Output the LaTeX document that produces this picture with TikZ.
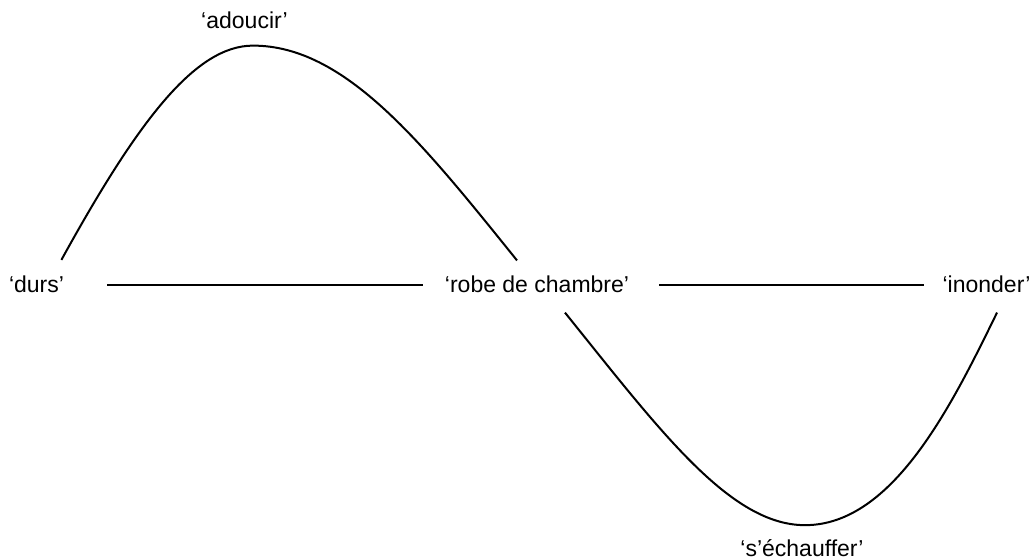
\documentclass[tikz,border=0pt]{standalone}
\usepackage{fontspec}
\setmainfont{Liberation Sans}
\usepackage{tikz}
\usetikzlibrary{positioning}

\begin{document}
\begin{tikzpicture}[
  x=0.5pt,y=0.5pt,
  word/.style={inner sep=0pt,anchor=base,font=\fontsize{11.5}{13.8}\selectfont},
  link/.style={black,line width=1pt}
]
\useasboundingbox (0,0) rectangle (1036,-560);
\node[word] (durs) at (36.5,-293) {‘durs’};
\node[word] (robe) at (537,-293) {‘robe de chambre’};
\node[word] (ino) at (986.5,-293) {‘inonder’};
\node[word] (adou) at (244.5,-29) {‘adoucir’};
\node[word] (ech) at (802,-556) {‘s’échauffer’};

\draw[link,shorten <=21.5pt,shorten >=11pt] (durs.east) -- (robe.west);
\draw[link,shorten <=15pt,shorten >=9pt] (robe.east) -- (ino.west);
% upper arc
\draw[link] ([shift={(-3,16)}]durs.north east) .. controls +(76,138) and +(-58,0) .. ([shift={(8.5,-16)}]adou.south)
  .. controls +(92,0) and +(-95,118) .. ([shift={(-20,15.5)}]robe.north);
% lower arc
\draw[link] ([shift={(28,-19)}]robe.south) .. controls +(95,-118) and +(-75,0) .. ([shift={(3,13.5)}]ech.north)
  .. controls +(88,0) and +(-45,-92) .. ([shift={(10.5,-19)}]ino.south);
\end{tikzpicture}
\end{document}
